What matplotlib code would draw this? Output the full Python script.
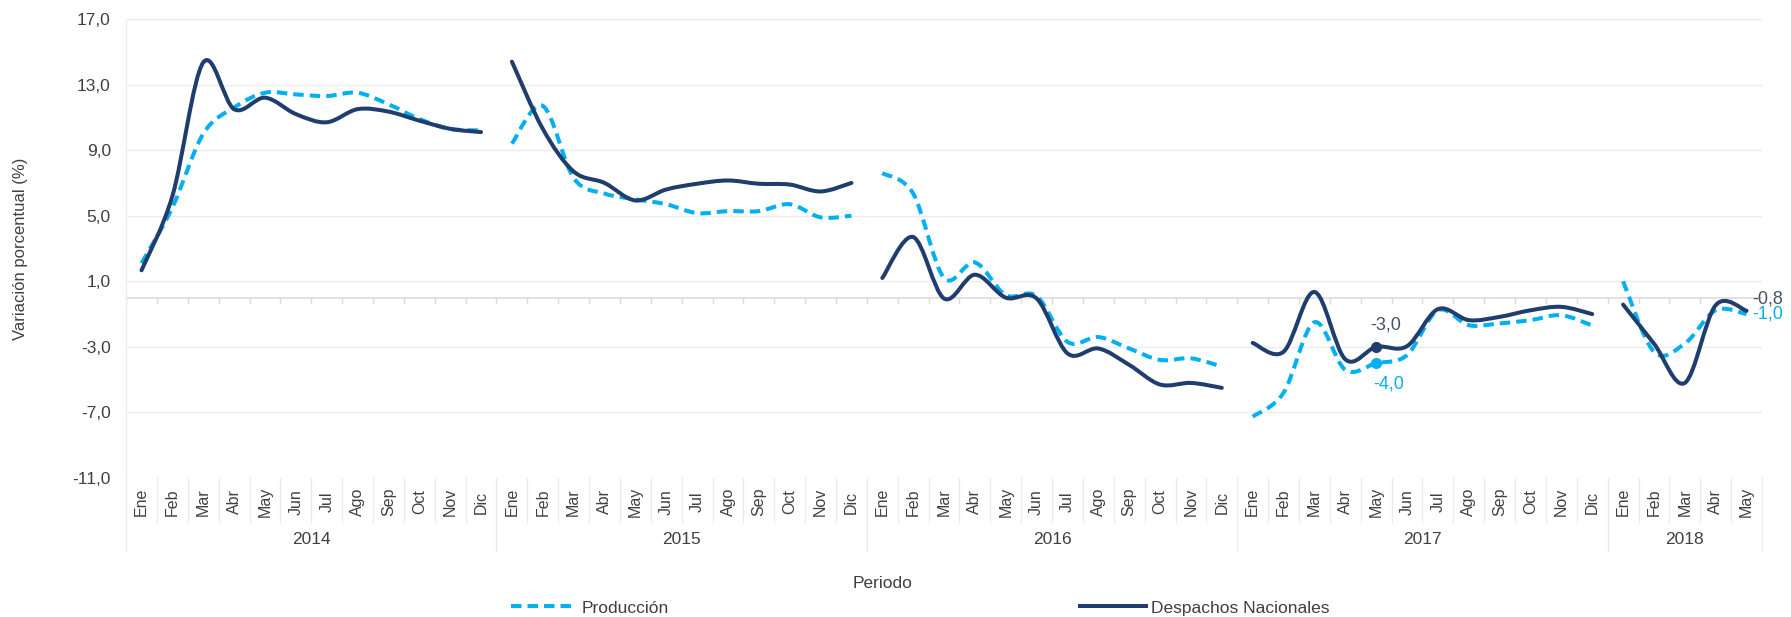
import numpy as np
import matplotlib.pyplot as plt
from matplotlib.path import Path
from matplotlib.patches import PathPatch
from matplotlib.lines import Line2D
import matplotlib.transforms as mtransforms

plt.rcParams['font.family'] = ['Liberation Sans', 'DejaVu Sans']

# ── Data ─────────────────────────────────────────────────────────────────────

years = ["2014", "2015", "2016", "2017", "2018"]
months_per_year = [12, 12, 12, 12, 5]
month_names = ["Ene", "Feb", "Mar", "Abr", "May", "Jun",
               "Jul", "Ago", "Sep", "Oct", "Nov", "Dic"]

produccion = [
    2.1, 5.5, 10.0, 11.6, 12.5, 12.4, 12.3, 12.5, 11.8, 10.9, 10.3, 10.2,
    9.4, 11.7, 7.3, 6.35, 6.0, 5.7, 5.16, 5.28, 5.28, 5.7, 4.9, 5.0,
    7.6, 6.35, 1.2, 2.15, 0.15, 0.1, -2.7, -2.4, -3.1, -3.8, -3.7, -4.2,
    -7.26, -5.8, -1.5, -4.4, -4.0, -3.5, -0.77, -1.68, -1.57, -1.37, -1.07, -1.7,
    1.0, -3.3, -2.8, -0.77, -1.0,
]
despachos = [
    1.67, 6.2, 14.35, 11.5, 12.2, 11.2, 10.7, 11.5, 11.35, 10.8, 10.3, 10.1,
    14.4, 10.3, 7.7, 7.0, 5.93, 6.6, 6.95, 7.15, 6.95, 6.9, 6.48, 7.0,
    1.2, 3.7, -0.05, 1.4, 0.0, -0.05, -3.4, -3.1, -4.1, -5.3, -5.2, -5.5,
    -2.76, -3.3, 0.35, -3.76, -3.0, -2.96, -0.7, -1.37, -1.17, -0.77, -0.56, -1.0,
    -0.42, -2.8, -5.2, -0.46, -0.8,
]

# labelled points: (index, series, text)
labels_prod = {40: "-4,0", 52: "-1,0"}
labels_desp = {40: "-3,0", 52: "-0,8"}

C_PROD = "#00B0F0"
C_DESP = "#1F3D6D"
C_DESP_TXT = "#44546A"
GRID = "#EBEBEB"


def smooth_path(xs, ys):
    """Excel-like smoothed line: cubic bezier through every point."""
    pts = np.column_stack([xs, ys]).astype(float)
    n = len(pts)
    verts = [pts[0]]
    codes = [Path.MOVETO]
    for i in range(n - 1):
        p0 = pts[max(i - 1, 0)]
        p1 = pts[i]
        p2 = pts[i + 1]
        p3 = pts[min(i + 2, n - 1)]
        verts += [p1 + (p2 - p0) / 6, p2 - (p3 - p1) / 6, p2]
        codes += [Path.CURVE4] * 3
    return Path(verts, codes)


fig = plt.figure(figsize=(17.91, 6.17), dpi=100)
ax = fig.add_axes([0.0704, 0.2253, 0.9134, 0.7439])

n = len(produccion)
x = np.arange(n)
ax.set_xlim(-0.5, n - 0.5)
ax.set_ylim(-11, 17)

# gridlines
yticks = np.arange(-11, 18, 4)
ax.set_yticks(yticks)
ax.set_yticklabels([f"{v:.1f}".replace(".", ",") for v in yticks], fontsize=12.5, color="#404040")
for v in yticks:
    ax.axhline(v, color=GRID, lw=1, zorder=0)
ax.tick_params(axis="y", length=0, pad=11)
ax.set_xticks([])
for s in ["top", "right", "bottom"]:
    ax.spines[s].set_visible(False)
ax.spines["left"].set_color(GRID)

# zero axis with tick marks between months
ax.axhline(0, color="#DDDDDD", lw=1.2, zorder=1)
for b in np.arange(-0.5, n, 1.0):
    ax.plot([b, b], [0, -0.3], color="#DDDDDD", lw=1, zorder=1)

# lines, broken at every year
start = 0
for cnt in months_per_year:
    seg = slice(start, start + cnt)
    ax.add_patch(PathPatch(smooth_path(x[seg], produccion[seg]), fill=False,
                           edgecolor=C_PROD, lw=2.9, linestyle=(0, (2.6, 1.5)),
                           capstyle="butt", zorder=3))
    ax.add_patch(PathPatch(smooth_path(x[seg], despachos[seg]), fill=False,
                           edgecolor=C_DESP, lw=2.9, capstyle="round",
                           joinstyle="round", zorder=4))
    start += cnt

# data labels
i = 40
ax.plot(i, despachos[i], "o", color=C_DESP, ms=7, zorder=5)
ax.plot(i, produccion[i], "o", color=C_PROD, ms=7, zorder=5)
ax.annotate(labels_desp[i], (i, despachos[i]), xytext=(10, 22), textcoords="offset pixels",
            ha="center", va="center", fontsize=13, color=C_DESP_TXT)
ax.annotate(labels_prod[i], (i, produccion[i]), xytext=(13, -21), textcoords="offset pixels",
            ha="center", va="center", fontsize=13, color=C_PROD)
i = 52
ax.annotate(labels_desp[i], (i, despachos[i]), xytext=(6, 12), textcoords="offset pixels",
            ha="left", va="center", fontsize=13, color=C_DESP_TXT, annotation_clip=False)
ax.annotate(labels_prod[i], (i, produccion[i]), xytext=(6, 0), textcoords="offset pixels",
            ha="left", va="center", fontsize=13, color=C_PROD, annotation_clip=False)

# two-level category axis
trans = mtransforms.blended_transform_factory(ax.transData, ax.transAxes)
sep_month = -44 / 459
sep_year = -73 / 459
idx = 0
for y, cnt in zip(years, months_per_year):
    for m in range(cnt):
        ax.text(idx + m, -24 / 459, month_names[m], transform=trans, rotation=90,
                ha="center", va="center", fontsize=11.5, color="#404040")
        if m > 0:
            ax.plot([idx + m - 0.5] * 2, [0, sep_month], transform=trans,
                    color=GRID, lw=1, clip_on=False)
    ax.plot([idx - 0.5] * 2, [0, sep_year], transform=trans, color=GRID, lw=1, clip_on=False)
    ax.text(idx + (cnt - 1) / 2, -62 / 459, y, transform=trans,
            ha="center", va="center", fontsize=12.5, color="#404040")
    idx += cnt
ax.plot([n - 0.5] * 2, [0, sep_year], transform=trans, color=GRID, lw=1, clip_on=False)

fig.text(0.0112, 0.597, "Variación porcentual (%)", rotation=90,
         ha="center", va="center", fontsize=12, color="#404040")
fig.text(0.4925, 0.055, "Periodo", ha="center", va="center", fontsize=12.5, color="#404040")

handles = [
    Line2D([], [], color=C_PROD, lw=2.9, linestyle=(0, (2.6, 1.5))),
    Line2D([], [], color=C_DESP, lw=2.9),
]
fig.legend(handles, ["Producción", "Despachos Nacionales"], loc="center",
           bbox_to_anchor=(0.5138, 0.0146), ncol=2, frameon=False, fontsize=12.5,
           handlelength=3.8, handletextpad=0.3, columnspacing=23.65, labelcolor="#404040")

fig.savefig("out.png", dpi=100)
